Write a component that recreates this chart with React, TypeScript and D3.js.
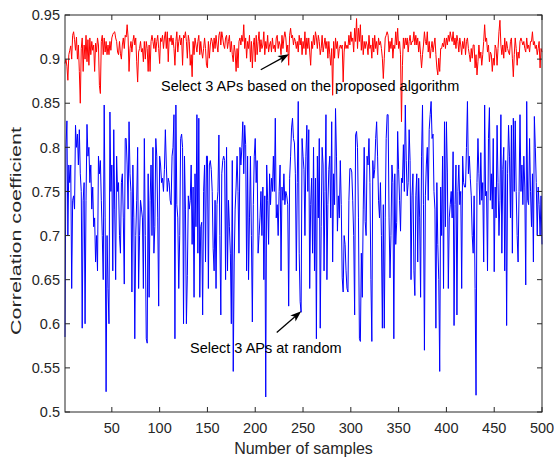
import * as d3 from 'd3';

const SAMPLE_TICKS = [50, 100, 150, 200, 250, 300, 350, 400, 450, 500];
const COEF_TICKS = [0.5, 0.55, 0.6, 0.65, 0.7, 0.75, 0.8, 0.85, 0.9, 0.95];

// correlation coefficient per sample, APs picked by the proposed algorithm
const proposedCoef = [
  0.895, 0.9, 0.892, 0.876, 0.905, 0.91, 0.915, 0.9, 0.927, 0.931,
  0.922, 0.91, 0.925, 0.9, 0.916, 0.886, 0.85, 0.912, 0.924, 0.886,
  0.916, 0.9, 0.927, 0.897, 0.922, 0.893, 0.924, 0.905, 0.92, 0.91,
  0.916, 0.886, 0.918, 0.908, 0.924, 0.916, 0.87, 0.861, 0.92, 0.927,
  0.905, 0.924, 0.908, 0.92, 0.905, 0.916, 0.905, 0.92, 0.91, 0.924,
  0.928, 0.93, 0.931, 0.924, 0.92, 0.908, 0.905, 0.92, 0.906, 0.9,
  0.916, 0.924, 0.912, 0.927, 0.925, 0.939, 0.925, 0.886, 0.912, 0.92,
  0.908, 0.92, 0.927, 0.916, 0.924, 0.897, 0.874, 0.908, 0.912, 0.92,
  0.908, 0.912, 0.897, 0.92, 0.9, 0.92, 0.912, 0.886, 0.916, 0.886,
  0.92, 0.927, 0.92, 0.912, 0.924, 0.908, 0.92, 0.927, 0.912, 0.895,
  0.924, 0.92, 0.927, 0.912, 0.924, 0.931, 0.912, 0.931, 0.897, 0.924,
  0.92, 0.927, 0.916, 0.924, 0.912, 0.893, 0.92, 0.931, 0.908, 0.92,
  0.927, 0.916, 0.924, 0.893, 0.927, 0.924, 0.931, 0.92, 0.901, 0.927,
  0.92, 0.893, 0.905, 0.88, 0.92, 0.905, 0.924, 0.916, 0.908, 0.92,
  0.927, 0.905, 0.92, 0.908, 0.901, 0.912, 0.924, 0.912, 0.893, 0.89,
  0.92, 0.901, 0.916, 0.924, 0.92, 0.908, 0.924, 0.912, 0.927, 0.916,
  0.908, 0.927, 0.931, 0.916, 0.931, 0.924, 0.916, 0.912, 0.924, 0.927,
  0.912, 0.92, 0.927, 0.908, 0.92, 0.905, 0.897, 0.916, 0.908, 0.886,
  0.912, 0.89, 0.92, 0.924, 0.916, 0.927, 0.92, 0.939, 0.912, 0.924,
  0.901, 0.92, 0.912, 0.927, 0.897, 0.92, 0.89, 0.916, 0.924, 0.897,
  0.927, 0.905, 0.92, 0.931, 0.908, 0.922, 0.912, 0.916, 0.931, 0.905,
  0.92, 0.912, 0.927, 0.908, 0.916, 0.92, 0.908, 0.924, 0.912, 0.916,
  0.908, 0.924, 0.927, 0.912, 0.92, 0.916, 0.905, 0.927, 0.912, 0.924,
  0.931, 0.924, 0.908, 0.916, 0.893, 0.927, 0.935, 0.924, 0.927, 0.916,
  0.924, 0.92, 0.912, 0.92, 0.908, 0.927, 0.916, 0.924, 0.905, 0.92,
  0.912, 0.931, 0.905, 0.924, 0.912, 0.924, 0.908, 0.893, 0.92, 0.912,
  0.927, 0.916, 0.931, 0.924, 0.912, 0.927, 0.92, 0.905, 0.912, 0.927,
  0.908, 0.916, 0.924, 0.912, 0.92, 0.901, 0.92, 0.905, 0.893, 0.912,
  0.859, 0.92, 0.901, 0.924, 0.912, 0.92, 0.901, 0.912, 0.916, 0.912,
  0.916, 0.874, 0.908, 0.92, 0.912, 0.916, 0.912, 0.927, 0.916, 0.931,
  0.92, 0.924, 0.908, 0.935, 0.92, 0.946, 0.912, 0.935, 0.92, 0.939,
  0.91, 0.927, 0.905, 0.92, 0.912, 0.92, 0.916, 0.905, 0.927, 0.912,
  0.916, 0.901, 0.924, 0.908, 0.927, 0.912, 0.92, 0.905, 0.924, 0.916,
  0.92, 0.912, 0.901, 0.878, 0.901, 0.924, 0.927, 0.931, 0.927, 0.908,
  0.92, 0.912, 0.924, 0.901, 0.916, 0.912, 0.931, 0.916, 0.935, 0.912,
  0.92, 0.905, 0.829, 0.893, 0.924, 0.912, 0.924, 0.916, 0.924, 0.908,
  0.92, 0.927, 0.916, 0.92, 0.92, 0.931, 0.916, 0.927, 0.916, 0.924,
  0.908, 0.92, 0.905, 0.89, 0.905, 0.916, 0.931, 0.92, 0.916, 0.931,
  0.908, 0.92, 0.901, 0.912, 0.92, 0.908, 0.916, 0.924, 0.905, 0.89,
  0.882, 0.901, 0.886, 0.912, 0.912, 0.918, 0.914, 0.924, 0.912, 0.924,
  0.916, 0.927, 0.92, 0.931, 0.924, 0.92, 0.931, 0.916, 0.924, 0.912,
  0.927, 0.92, 0.908, 0.924, 0.916, 0.905, 0.92, 0.912, 0.924, 0.905,
  0.92, 0.924, 0.912, 0.905, 0.897, 0.912, 0.901, 0.916, 0.916, 0.89,
  0.905, 0.882, 0.897, 0.916, 0.901, 0.908, 0.893, 0.905, 0.92, 0.939,
  0.92, 0.924, 0.908, 0.916, 0.897, 0.908, 0.905, 0.886, 0.901, 0.893,
  0.916, 0.912, 0.893, 0.912, 0.931, 0.944, 0.916, 0.905, 0.916, 0.901,
  0.924, 0.908, 0.92, 0.912, 0.908, 0.905, 0.92, 0.924, 0.901, 0.88,
  0.905, 0.924, 0.912, 0.893, 0.908, 0.901, 0.92, 0.924, 0.92, 0.916,
  0.92, 0.912, 0.908, 0.924, 0.912, 0.916, 0.908, 0.92, 0.92, 0.931,
  0.916, 0.92, 0.912, 0.916, 0.905, 0.912, 0.92, 0.89, 0.912, 0.908,
];

// same, with 3 APs picked at random
const randomCoef = [
  0.585, 0.8, 0.83, 0.7, 0.78, 0.76, 0.78, 0.64, 0.74, 0.745,
  0.73, 0.825, 0.8, 0.815, 0.78, 0.82, 0.77, 0.75, 0.595, 0.74,
  0.76, 0.6, 0.74, 0.826, 0.79, 0.8, 0.76, 0.78, 0.73, 0.755,
  0.71, 0.72, 0.67, 0.7, 0.66, 0.79, 0.77, 0.785, 0.74, 0.7,
  0.65, 0.848, 0.72, 0.523, 0.7, 0.64, 0.6, 0.84, 0.75, 0.78,
  0.66, 0.82, 0.73, 0.65, 0.79, 0.75, 0.76, 0.7, 0.68, 0.76,
  0.77, 0.72, 0.645, 0.81, 0.81, 0.78, 0.73, 0.829, 0.77, 0.75,
  0.636, 0.78, 0.72, 0.583, 0.7, 0.74, 0.8, 0.64, 0.7, 0.74,
  0.73, 0.72, 0.64, 0.81, 0.7, 0.583, 0.578, 0.77, 0.63, 0.74,
  0.78, 0.7, 0.8, 0.68, 0.71, 0.81, 0.79, 0.72, 0.62, 0.79,
  0.78, 0.76, 0.765, 0.75, 0.775, 0.82, 0.78, 0.75, 0.765, 0.76,
  0.74, 0.735, 0.79, 0.8, 0.837, 0.583, 0.848, 0.735, 0.72, 0.64,
  0.7, 0.81, 0.815, 0.8, 0.6, 0.79, 0.73, 0.6, 0.655, 0.745,
  0.73, 0.74, 0.78, 0.69, 0.755, 0.63, 0.77, 0.71, 0.837, 0.68,
  0.833, 0.63, 0.71, 0.715, 0.61, 0.75, 0.78, 0.67, 0.79, 0.79,
  0.64, 0.78, 0.785, 0.775, 0.75, 0.685, 0.66, 0.74, 0.64, 0.735,
  0.75, 0.814, 0.7, 0.61, 0.77, 0.785, 0.79, 0.785, 0.65, 0.8,
  0.66, 0.74, 0.71, 0.68, 0.6, 0.785, 0.546, 0.67, 0.73, 0.755,
  0.79, 0.75, 0.68, 0.8, 0.78, 0.8, 0.829, 0.77, 0.825, 0.803,
  0.66, 0.79, 0.65, 0.72, 0.79, 0.7, 0.602, 0.735, 0.79, 0.81,
  0.76, 0.785, 0.68, 0.7, 0.72, 0.75, 0.7, 0.755, 0.65, 0.745,
  0.517, 0.78, 0.74, 0.69, 0.77, 0.735, 0.765, 0.75, 0.79, 0.75,
  0.833, 0.72, 0.735, 0.7, 0.75, 0.78, 0.66, 0.755, 0.74, 0.77,
  0.735, 0.75, 0.745, 0.735, 0.62, 0.765, 0.79, 0.822, 0.833, 0.81,
  0.805, 0.77, 0.66, 0.76, 0.852, 0.68, 0.625, 0.613, 0.81, 0.79,
  0.775, 0.7, 0.79, 0.825, 0.75, 0.82, 0.64, 0.735, 0.765, 0.68,
  0.8, 0.66, 0.765, 0.583, 0.79, 0.72, 0.81, 0.595, 0.71, 0.8,
  0.78, 0.66, 0.75, 0.837, 0.65, 0.735, 0.775, 0.79, 0.72, 0.829,
  0.67, 0.77, 0.735, 0.844, 0.79, 0.705, 0.745, 0.72, 0.785, 0.735,
  0.652, 0.636, 0.7, 0.69, 0.66, 0.64, 0.636, 0.74, 0.776, 0.776,
  0.772, 0.74, 0.7, 0.61, 0.814, 0.818, 0.8, 0.72, 0.583, 0.58,
  0.68, 0.63, 0.73, 0.8, 0.716, 0.7, 0.79, 0.78, 0.81, 0.76,
  0.65, 0.58, 0.785, 0.765, 0.775, 0.81, 0.829, 0.79, 0.74, 0.72,
  0.76, 0.7, 0.595, 0.735, 0.595, 0.72, 0.81, 0.837, 0.837, 0.72,
  0.652, 0.7, 0.78, 0.76, 0.583, 0.77, 0.69, 0.715, 0.818, 0.775,
  0.74, 0.705, 0.765, 0.76, 0.803, 0.75, 0.848, 0.785, 0.745, 0.76,
  0.82, 0.785, 0.65, 0.745, 0.77, 0.66, 0.632, 0.745, 0.77, 0.67,
  0.765, 0.72, 0.63, 0.79, 0.848, 0.735, 0.57, 0.745, 0.78, 0.8,
  0.74, 0.82, 0.837, 0.852, 0.81, 0.815, 0.75, 0.73, 0.595, 0.76,
  0.69, 0.65, 0.546, 0.755, 0.7, 0.79, 0.64, 0.829, 0.71, 0.829,
  0.772, 0.64, 0.72, 0.735, 0.75, 0.72, 0.795, 0.598, 0.735, 0.78,
  0.61, 0.75, 0.78, 0.735, 0.75, 0.64, 0.79, 0.76, 0.755, 0.755,
  0.8, 0.852, 0.77, 0.79, 0.765, 0.745, 0.7, 0.68, 0.745, 0.64,
  0.519, 0.76, 0.81, 0.77, 0.735, 0.794, 0.74, 0.76, 0.67, 0.848,
  0.745, 0.75, 0.66, 0.81, 0.845, 0.74, 0.77, 0.73, 0.81, 0.659,
  0.755, 0.72, 0.825, 0.76, 0.7, 0.74, 0.837, 0.68, 0.775, 0.8,
  0.66, 0.785, 0.598, 0.77, 0.825, 0.79, 0.72, 0.825, 0.68, 0.833,
  0.75, 0.83, 0.75, 0.7, 0.67, 0.75, 0.837, 0.75, 0.78, 0.735,
  0.79, 0.755, 0.644, 0.852, 0.74, 0.735, 0.81, 0.75, 0.71, 0.77,
  0.67, 0.835, 0.8, 0.76, 0.7, 0.755, 0.735, 0.7, 0.745, 0.69,
];

// annotations, in data units: [sample, coefficient]
const proposedNote = { text: 'Select 3 APs based on the proposed algorithm', at: [101.4, 0.8638], tail: [205.8, 0.888], head: [235.3, 0.9054] };
const randomNote = { text: 'Select 3 APs at random', at: [131.8, 0.5664], tail: [222.5, 0.59], head: [248.1, 0.6142] };

const W = 554;
const H = 461;
const margin = { top: 15, right: 12, bottom: 49, left: 65 };
const AXIS = '#262626';
const FONT = '"Liberation Sans", Arial, Helvetica, sans-serif';

function arrowHead(tx: number, ty: number, hx: number, hy: number) {
  const dx = hx - tx;
  const dy = hy - ty;
  const len = Math.hypot(dx, dy) || 1;
  const ux = dx / len;
  const uy = dy / len;
  const L = 11;
  const half = 4;
  const bx = hx - ux * L;
  const by = hy - uy * L;
  const nx = hx - ux * L * 0.75;
  const ny = hy - uy * L * 0.75;
  return `M${hx},${hy}L${bx - uy * half},${by + ux * half}L${nx},${ny}L${bx + uy * half},${by - ux * half}Z`;
}

export default function App() {
  const x0 = margin.left;
  const x1 = W - margin.right;
  const y0 = H - margin.bottom;
  const y1 = margin.top;

  const x = d3.scaleLinear().domain([1, 500]).range([x0, x1]);
  const y = d3.scaleLinear().domain([0.5, 0.95]).range([y0, y1]);

  const line = d3
    .line<number>()
    .x((_, i) => x(i + 1))
    .y((d) => y(d));

  const notes = [proposedNote, randomNote];

  return (
    <svg
      width={W}
      height={H}
      style={{ position: 'absolute', left: 0, top: 0, background: '#fff', fontFamily: FONT }}
    >
      <rect x={0} y={0} width={W} height={H} fill="#fff" />

      <path d={line(proposedCoef) ?? ''} fill="none" stroke="#ff0000" strokeWidth={1} />
      <path d={line(randomCoef) ?? ''} fill="none" stroke="#0000ff" strokeWidth={1} />

      {notes.map((n) => {
        const tx = x(n.tail[0]);
        const ty = y(n.tail[1]);
        const hx = x(n.head[0]);
        const hy = y(n.head[1]);
        const len = Math.hypot(hx - tx, hy - ty);
        const sx = hx - ((hx - tx) / len) * 8;
        const sy = hy - ((hy - ty) / len) * 8;
        return (
          <g key={n.text}>
            <line x1={tx} y1={ty} x2={sx} y2={sy} stroke="#000" strokeWidth={1.3} />
            <path d={arrowHead(tx, ty, hx, hy)} fill="#000" />
            <text x={x(n.at[0])} y={y(n.at[1])} fontSize={14.5} fill="#000">
              {n.text}
            </text>
          </g>
        );
      })}

      <rect x={x0} y={y1} width={x1 - x0} height={y0 - y1} fill="none" stroke={AXIS} strokeWidth={1} />

      {SAMPLE_TICKS.map((t) => (
        <g key={`x${t}`}>
          <line x1={x(t)} x2={x(t)} y1={y0} y2={y0 - 5} stroke={AXIS} />
          <line x1={x(t)} x2={x(t)} y1={y1} y2={y1 + 5} stroke={AXIS} />
          <text x={x(t)} y={y0 + 21} textAnchor="middle" fontSize={14.5} fill={AXIS}>
            {t}
          </text>
        </g>
      ))}

      {COEF_TICKS.map((t) => (
        <g key={`y${t}`}>
          <line x1={x0} x2={x0 + 5} y1={y(t)} y2={y(t)} stroke={AXIS} />
          <line x1={x1} x2={x1 - 5} y1={y(t)} y2={y(t)} stroke={AXIS} />
          <text x={x0 - 5} y={y(t)} dy="0.36em" textAnchor="end" fontSize={14.5} fill={AXIS}>
            {t}
          </text>
        </g>
      ))}

      <text x={(x0 + x1) / 2} y={H - 7} textAnchor="middle" fontSize={16} fill={AXIS}>
        Number of samples
      </text>
      <text
        transform={`translate(21,231) rotate(-90)`}
        textAnchor="middle"
        fontSize={14}
        textLength={208}
        lengthAdjust="spacingAndGlyphs"
        fill={AXIS}
      >
        Correlation coefficient
      </text>
    </svg>
  );
}
